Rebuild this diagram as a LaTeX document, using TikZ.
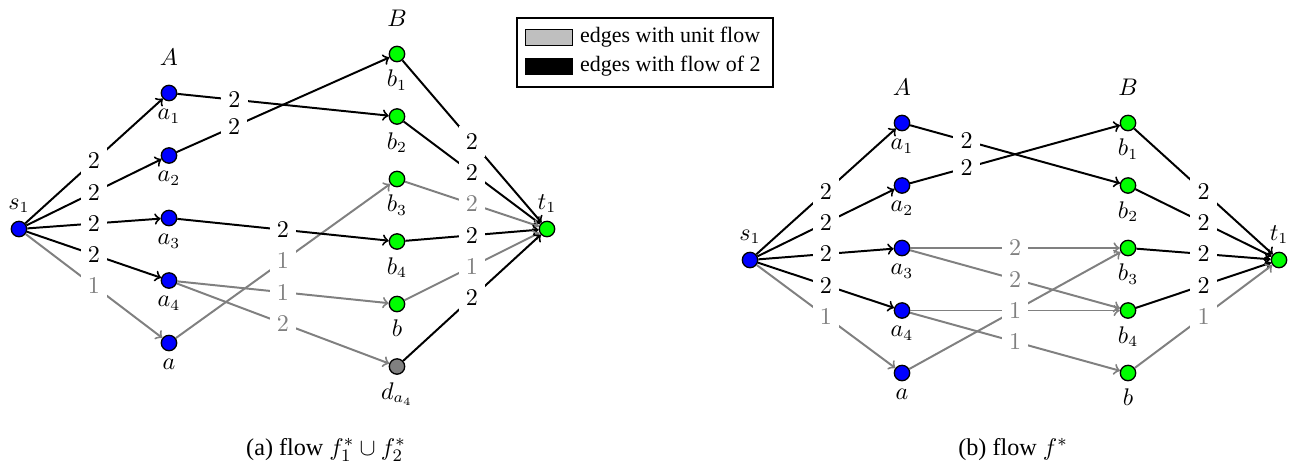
\documentclass[tikz,border=0pt]{standalone}
\usepackage[no-math]{fontspec}
\setmainfont{Liberation Serif}
\usetikzlibrary{positioning}
\tikzset{every label/.style={font=\fontsize{10.5pt}{12.6pt}\selectfont}}
\tikzstyle{vertex} = [circle, draw, semithick, inner sep=0pt, minimum size=7pt, node distance=1cm, label distance=0.6pt]
\tikzstyle{anode} = [vertex, fill=blue]
\tikzstyle{bnode} = [vertex, fill=green, label distance=2.6pt]
\tikzstyle{sink} = [vertex, fill=green]
\tikzstyle{weight} = [fill=white, font=\fontsize{10.5pt}{12.6pt}\selectfont]
\tikzstyle{setname} = [font=\fontsize{10.5pt}{12.6pt}\selectfont]
\tikzstyle{line} = [draw, line width=0.9pt, ->]
\tikzstyle{unit} = [line, gray]
\tikzstyle{legkey} = [rectangle, draw, inner sep=0pt, minimum width=0.75cm, minimum height=0.25cm]
\tikzstyle{caption} = [anchor=base, font=\fontsize{11pt}{13pt}\selectfont]

\begin{document}
\begin{tikzpicture}
    \useasboundingbox (0,0) rectangle (20.736,-7.488);
    % Legend
    \node [draw, thick, minimum width=4.096cm, minimum height=1.104cm] (legend) at (10.32,-0.84) {};
    \node [legkey, fill=gray!50] (unitkey) at (8.776,-0.6) {};
    \node [right=0pt of unitkey] (unittext) {edges with unit flow};
    \node [legkey, fill=black] (flowkey) at (8.776,-1.064) {};
    \node [right=0pt of flowkey] (flowtext) {edges with flow of 2};

    % (a) flow f1* u f2*
    \node [anode, label=above:$s_1$] (s1) at (0.304,-3.664) {};
    \node [anode, label=below:$a_1$] (a1) at (2.704,-1.488) {};
    \node [anode, below of=a1, label=below:$a_2$] (a2) {};
    \node [anode, below of=a2, label=below:$a_3$] (a3) {};
    \node [anode, below of=a3, label=below:$a_4$] (a4) {};
    \node [anode, below of=a4, label=below:$a$] (a) {};
    \node [bnode, label=below:$b_1$] (b1) at (6.352,-0.864) {};
    \node [bnode, below of=b1, label=below:$b_2$] (b2) {};
    \node [bnode, below of=b2, label=below:$b_3$] (b3) {};
    \node [bnode, below of=b3, label=below:$b_4$] (b4) {};
    \node [bnode, below of=b4, label=below:$b$] (b) {};
    \node [bnode, below of=b, fill=gray, label=below:$d_{a_4}$] (d) {};
    \node [sink, label=above:$t_1$] (t1) at (8.752,-3.664) {};
    \node [setname, above=5.2pt of a1] (setA) {$A$};
    \node [setname, above=5.2pt of b1] (setB) {$B$};
    % Draw edges
    \path [line] (s1) -- node[weight] {$2$} (a1);
    \path [line] (s1) -- node[weight] {$2$} (a2);
    \path [line] (s1) -- node[weight] {$2$} (a3);
    \path [line] (s1) -- node[weight] {$2$} (a4);
    \path [unit] (s1) -- node[weight] {$1$} (a);
    \path [line] (a1) -- node[weight, pos=0.27] {$2$} (b2);
    \path [line] (a2) -- node[weight, pos=0.27] {$2$} (b1);
    \path [unit] (a) -- node[weight] {$1$} (b3);
    \path [line] (a3) -- node[weight] {$2$} (b4);
    \path [unit] (a4) -- node[weight] {$1$} (b);
    \path [unit] (a4) -- node[weight] {$2$} (d);
    \path [line] (b1) -- node[weight] {$2$} (t1);
    \path [line] (b2) -- node[weight] {$2$} (t1);
    \path [unit] (b3) -- node[weight] {$2$} (t1);
    \path [line] (b4) -- node[weight] {$2$} (t1);
    \path [unit] (b) -- node[weight] {$1$} (t1);
    \path [line] (d) -- node[weight] {$2$} (t1);
    \node [caption] (capa) at (5.216,-7.28) {(a) flow $f_1^*\cup f_2^*$};

    % (b) flow f*
    \node [anode, label=above:$s_1$] (rs1) at (12.0,-4.16) {};
    \node [anode, label=below:$a_1$] (ra1) at (14.432,-1.968) {};
    \node [anode, below of=ra1, label=below:$a_2$] (ra2) {};
    \node [anode, below of=ra2, label=below:$a_3$] (ra3) {};
    \node [anode, below of=ra3, label=below:$a_4$] (ra4) {};
    \node [anode, below of=ra4, label=below:$a$] (ra) {};
    \node [bnode, label=below:$b_1$] (rb1) at (18.048,-1.968) {};
    \node [bnode, below of=rb1, label=below:$b_2$] (rb2) {};
    \node [bnode, below of=rb2, label=below:$b_3$] (rb3) {};
    \node [bnode, below of=rb3, label=below:$b_4$] (rb4) {};
    \node [bnode, below of=rb4, label=below:$b$] (rb) {};
    \node [sink, label=above:$t_1$] (rt1) at (20.464,-4.16) {};
    \node [setname, above=5.2pt of ra1] (rsetA) {$A$};
    \node [setname, above=5.2pt of rb1] (rsetB) {$B$};
    % Draw edges
    \path [line] (rs1) -- node[weight] {$2$} (ra1);
    \path [line] (rs1) -- node[weight] {$2$} (ra2);
    \path [line] (rs1) -- node[weight] {$2$} (ra3);
    \path [line] (rs1) -- node[weight] {$2$} (ra4);
    \path [unit] (rs1) -- node[weight] {$1$} (ra);
    \path [line] (ra1) -- node[weight, pos=0.27] {$2$} (rb2);
    \path [line] (ra2) -- node[weight, pos=0.27] {$2$} (rb1);
    \path [unit] (ra3) -- node[weight] {$2$} (rb3);
    \path [unit] (ra3) -- node[weight] {$2$} (rb4);
    \path [unit] (ra4) -- node[weight] {$1$} (rb4);
    \path [unit] (ra) -- node[weight] {$1$} (rb3);
    \path [unit] (ra4) -- node[weight] {$1$} (rb);
    \path [line] (rb1) -- node[weight] {$2$} (rt1);
    \path [line] (rb2) -- node[weight] {$2$} (rt1);
    \path [line] (rb3) -- node[weight] {$2$} (rt1);
    \path [line] (rb4) -- node[weight] {$2$} (rt1);
    \path [unit] (rb) -- node[weight] {$1$} (rt1);
    \node [caption] (capb) at (16.208,-7.28) {(b) flow $f^*$};
\end{tikzpicture}
\end{document}
